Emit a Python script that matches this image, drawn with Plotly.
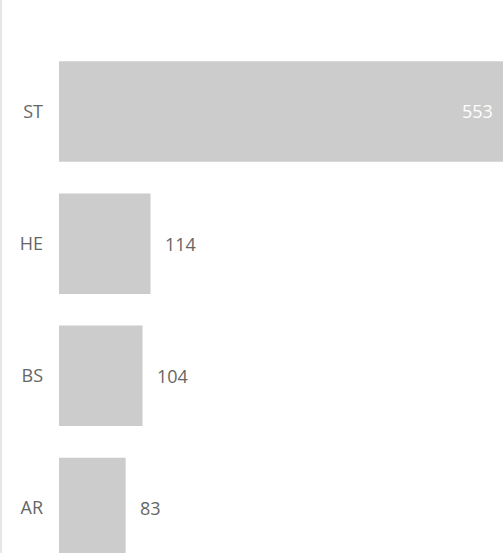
import plotly.graph_objects as go

categories = ["ST", "HE", "BS", "AR"]
values = [553, 114, 104, 83]

BAR = "#cccccc"
TXT = "#666666"
FONT = "Open Sans"
FS = 18

fig = go.Figure()
fig.add_trace(go.Bar(
    x=values, y=categories, orientation="h",
    marker=dict(color=BAR, line=dict(width=0)),
    hoverinfo="skip",
))

vmax = max(values)
for c, v in zip(categories, values):
    inside = v > vmax * 0.5
    fig.add_annotation(
        x=v, y=c, xref="x", yref="y", text=str(v), showarrow=False,
        xanchor="right" if inside else "left",
        xshift=-8 if inside else 12,
        font=dict(family=FONT, size=FS, color="#ffffff" if inside else TXT),
    )

fig.add_shape(type="line", xref="paper", yref="paper",
              x0=-0.1306, x1=-0.1306, y0=0, y1=1,
              line=dict(color="#e6e6e6", width=2))

fig.update_layout(
    width=503, height=553,
    margin=dict(l=59, r=0, t=0, b=0),
    paper_bgcolor="white", plot_bgcolor="white",
    bargap=0.24,
    showlegend=False,
    font=dict(family=FONT, size=FS, color=TXT),
    xaxis=dict(range=[0, vmax], visible=False, fixedrange=True),
    yaxis=dict(categoryorder="array", categoryarray=categories,
               range=[3.34, -0.843], showgrid=False, zeroline=False,
               showline=False, ticks="", ticklabelstandoff=15,
               tickfont=dict(family=FONT, size=FS, color=TXT)),
)

fig.write_html(
    "out.html",
    config={"displayModeBar": False},
    post_script="document.body.style.margin='0';document.body.style.overflow='hidden';",
)
